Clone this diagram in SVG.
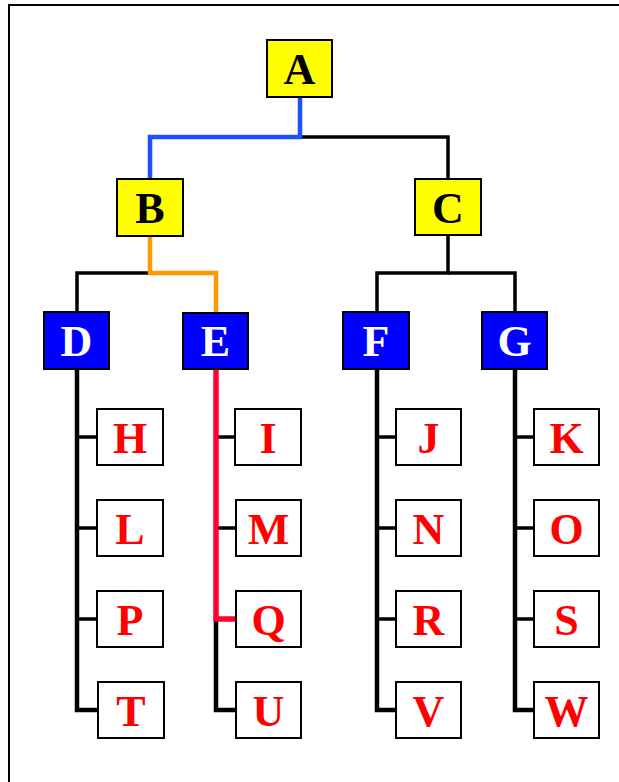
<svg xmlns="http://www.w3.org/2000/svg" width="619" height="782" viewBox="0 0 619 782">
<style>
.box{stroke:#000;stroke-width:2}
.y{fill:#FFFF00}
.b{fill:#0000FF}
.w{fill:#FFFFFF}
.t{font-family:"Liberation Serif","Times New Roman",serif;font-weight:bold;font-size:44px;text-anchor:middle}
.tk{fill:#000}
.tw{fill:#FFF}
.tr{fill:#FF0000}
.ln{fill:none;stroke:#000;stroke-width:3.5}
.tr2{fill:none;stroke:#000;stroke-width:4.5}
.lf{fill:none;stroke:#000;stroke-width:3.5}
</style>
<rect x="9" y="5" width="700" height="900" fill="#fff" stroke="#000" stroke-width="2"/>
<g id="connectors">
<path class="ln" d="M300 137H448V179"/>
<path d="M300 97V137H150V179" fill="none" stroke="#1E50FF" stroke-width="4.5"/>
<path class="ln" d="M150 273H77V312"/>
<path d="M150 236V273H216V313" fill="none" stroke="#FF9900" stroke-width="4.5"/>
<path class="ln" d="M448 235V273H377V312"/>
<path class="ln" d="M448 273H515V312"/>
<path class="tr2" d="M77 369V710H97"/>
<path class="lf" d="M77 437H97M77 528H97M77 619H97"/>
<path class="tr2" d="M216 619V710H235"/>
<path class="lf" d="M216 437H235M216 528H235"/>
<path d="M216 369V619H235" fill="none" stroke="#FF0033" stroke-width="5.5"/>
<path class="tr2" d="M377 369V710H396"/>
<path class="lf" d="M377 437H396M377 528H396M377 619H396"/>
<path class="tr2" d="M515 369V710H534"/>
<path class="lf" d="M515 437H534M515 528H534M515 619H534"/>
</g>
<g id="A"><rect class="box y" x="267" y="40" width="65" height="57"/><text class="t tk" x="299.5" y="84">A</text></g>
<g id="B"><rect class="box y" x="117" y="179" width="66" height="57"/><text class="t tk" x="150" y="223">B</text></g>
<g id="C"><rect class="box y" x="415" y="179" width="66" height="56"/><text class="t tk" x="448" y="223">C</text></g>
<g id="D"><rect class="box b" x="44" y="312" width="65" height="57"/><text class="t tw" x="76.5" y="356">D</text></g>
<g id="E"><rect class="box b" x="183" y="313" width="65" height="56"/><text class="t tw" x="215.5" y="356">E</text></g>
<g id="F"><rect class="box b" x="343" y="312" width="66" height="57"/><text class="t tw" x="376" y="356">F</text></g>
<g id="G"><rect class="box b" x="482" y="312" width="65" height="57"/><text class="t tw" x="514.5" y="356">G</text></g>
<g id="H"><rect class="box w" x="97" y="409" width="66" height="56"/><text class="t tr" x="130" y="453">H</text></g>
<g id="L"><rect class="box w" x="97" y="500" width="66" height="56"/><text class="t tr" x="130" y="544">L</text></g>
<g id="P"><rect class="box w" x="97" y="591" width="66" height="56"/><text class="t tr" x="130" y="635">P</text></g>
<g id="T"><rect class="box w" x="98" y="682" width="66" height="56"/><text class="t tr" x="131" y="726">T</text></g>
<g id="I"><rect class="box w" x="235" y="409" width="66" height="56"/><text class="t tr" x="268" y="453">I</text></g>
<g id="M"><rect class="box w" x="236" y="500" width="65" height="56"/><text class="t tr" x="268.5" y="544">M</text></g>
<g id="Q"><rect class="box w" x="236" y="591" width="65" height="56"/><text class="t tr" x="268.5" y="635">Q</text></g>
<g id="U"><rect class="box w" x="236" y="682" width="65" height="56"/><text class="t tr" x="268.5" y="726">U</text></g>
<g id="J"><rect class="box w" x="396" y="409" width="65" height="56"/><text class="t tr" x="428.5" y="453">J</text></g>
<g id="N"><rect class="box w" x="396" y="500" width="65" height="56"/><text class="t tr" x="428.5" y="544">N</text></g>
<g id="R"><rect class="box w" x="396" y="591" width="65" height="56"/><text class="t tr" x="428.5" y="635">R</text></g>
<g id="V"><rect class="box w" x="396" y="682" width="65" height="56"/><text class="t tr" x="428.5" y="726">V</text></g>
<g id="K"><rect class="box w" x="534" y="409" width="65" height="56"/><text class="t tr" x="566.5" y="453">K</text></g>
<g id="O"><rect class="box w" x="534" y="500" width="65" height="56"/><text class="t tr" x="566.5" y="544">O</text></g>
<g id="S"><rect class="box w" x="534" y="591" width="65" height="56"/><text class="t tr" x="566.5" y="635">S</text></g>
<g id="W"><rect class="box w" x="534" y="682" width="65" height="56"/><text class="t tr" x="566.5" y="726">W</text></g>
</svg>
